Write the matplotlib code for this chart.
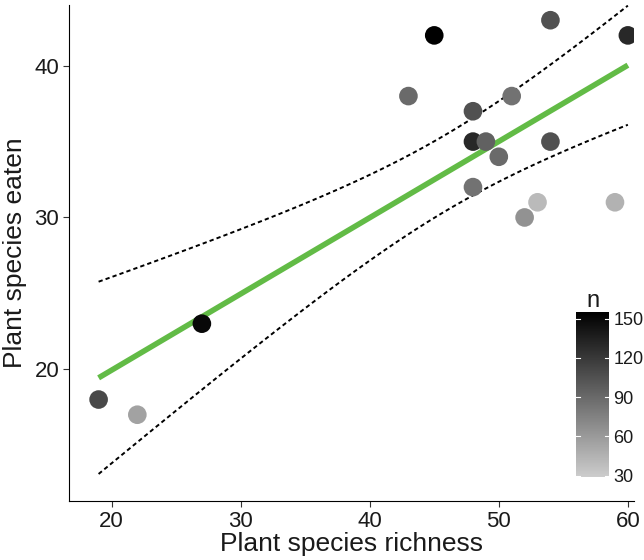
import numpy as np
import matplotlib.pyplot as plt
from matplotlib.colors import LinearSegmentedColormap, Normalize

plt.rcParams['font.family'] = ['Liberation Sans', 'DejaVu Sans']

# data
richness = [19, 22, 27, 43, 45, 48, 48, 49, 50, 48, 51, 52, 53, 54, 54, 59, 60]
eaten = [18, 17, 23, 38, 42, 37, 35, 35, 34, 32, 38, 30, 31, 43, 35, 31, 42]
n_obs = [110, 55, 150, 90, 155, 105, 130, 95, 90, 85, 85, 65, 40, 105, 105, 45, 130]

T_CRIT = 2.131  # t(0.975, df=15)

x = np.array(richness, dtype=float)
y = np.array(eaten, dtype=float)

# linear fit + 95% confidence band
slope, icpt = np.polyfit(x, y, 1)
xs = np.linspace(x.min(), x.max(), 100)
ys = icpt + slope * xs
resid = y - (icpt + slope * x)
s = np.sqrt(np.sum(resid**2) / (len(x) - 2))
se = s * np.sqrt(1 / len(x) + (xs - x.mean())**2 / np.sum((x - x.mean())**2))
upper = ys + T_CRIT * se
lower = ys - T_CRIT * se

fig = plt.figure(figsize=(6.44, 5.6), dpi=100)
ax = fig.add_axes([0.107, 0.105, 0.878, 0.886])

cmap = LinearSegmentedColormap.from_list('grey', ['#cccccc', '#000000'])
norm = Normalize(vmin=29, vmax=155)

ax.plot(xs, upper, color='black', lw=1.4, ls=(0, (2.2, 1.6)), zorder=2)
ax.plot(xs, lower, color='black', lw=1.4, ls=(0, (2.2, 1.6)), zorder=2)
ax.plot(xs, ys, color='#62bb46', lw=4, solid_capstyle='butt', zorder=3)
sc = ax.scatter(x, y, c=n_obs, cmap=cmap, norm=norm, s=180, linewidths=0, zorder=4)

ax.set_xlim(16.7, 60.5)
ax.set_ylim(11.3, 44.0)
ax.set_xticks([20, 30, 40, 50, 60])
ax.set_yticks([20, 30, 40])
ax.spines['top'].set_visible(False)
ax.spines['right'].set_visible(False)
ax.tick_params(direction='out', length=4, width=0.8, labelsize=16, pad=3,
               colors='#333333', labelcolor='#1a1a1a')
ax.set_xlabel('Plant species richness', fontsize=19, labelpad=0, color='#1a1a1a')
ax.set_ylabel('Plant species eaten', fontsize=19, labelpad=5, color='#1a1a1a')

# colorbar inside the panel
cax = fig.add_axes([576 / 644, 1 - 477 / 560, 33 / 644, 165 / 560])
cb = fig.colorbar(sc, cax=cax)
cb.set_ticks([30, 60, 90, 120, 150])
cb.outline.set_visible(False)
cax.tick_params(length=0, labelsize=13, pad=3, labelcolor='#1a1a1a')
for t in [30, 60, 90, 120, 150]:
    cax.plot([0, 0.12], [t, t], color='white', lw=0.8, transform=cax.get_yaxis_transform())
    cax.plot([0.88, 1], [t, t], color='white', lw=0.8, transform=cax.get_yaxis_transform())
cax.set_title('n', fontsize=17, pad=3, color='#1a1a1a')

fig.savefig('out.png', dpi=100)
